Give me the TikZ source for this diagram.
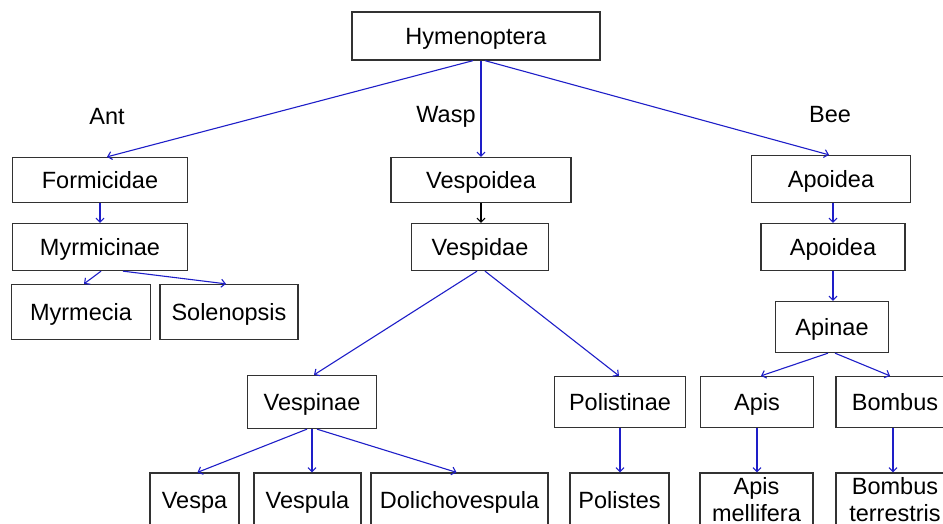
\documentclass[tikz,border=0pt]{standalone}
\usepackage{fontspec}
\setmainfont{Liberation Sans}
\usetikzlibrary{arrows.meta}
\definecolor{edgeblue}{RGB}{30,30,200}
\definecolor{boxgray}{RGB}{50,50,50}

\begin{document}
\begin{tikzpicture}[x=1pt,y=-1pt]
        \tikzset{taxon/.style = {shape=rectangle,draw=boxgray,line width=1.3pt,inner xsep=2pt,inner ysep=0pt,align=center,text height=16.8pt,text depth=0pt,font=\fontsize{23.5}{27}\selectfont}}
        \tikzset{twoline/.style = {taxon,text height=43.8pt}}
        \tikzset{group/.style = {font=\fontsize{23.5}{27}\selectfont}}
        \tikzset{edge/.style = {-{Straight Barb[length=4pt,width=8pt]},draw=edgeblue,line width=1.1pt}}
        \useasboundingbox (0,0) rectangle (943,523);
        % vertices
        \node[taxon,minimum width=248pt,minimum height=48pt] (hym) at (476,36) {Hymenoptera};
        \node[group] (ant)  at (107,117) {Ant};
        \node[group] (wasp) at (446,117) {Wasp};
        \node[group] (bee)  at (830,115) {Bee};
        \node[taxon,minimum width=175pt,minimum height=45pt] (formicidae) at (100,180) {Formicidae};
        \node[taxon,minimum width=175pt,minimum height=47pt] (myrmicinae) at (100,247) {Myrmicinae};
        \node[taxon,minimum width=139pt,minimum height=55pt] (myrmecia)   at (81,312)  {Myrmecia};
        \node[taxon,minimum width=138pt,minimum height=55pt] (solenopsis) at (229,312) {Solenopsis};
        \node[taxon,minimum width=180pt,minimum height=45pt] (vespoidea)  at (481,180) {Vespoidea};
        \node[taxon,minimum width=137pt,minimum height=47pt] (vespidae)   at (480,247) {Vespidae};
        \node[taxon,minimum width=129pt,minimum height=53pt] (vespinae)   at (312,402) {Vespinae};
        \node[taxon,minimum width=131pt,minimum height=51pt] (polistinae) at (620,402) {Polistinae};
        \node[taxon,minimum width=159pt,minimum height=47pt] (apoideaA)   at (831,179) {Apoidea};
        \node[taxon,minimum width=144pt,minimum height=47pt] (apoideaB)   at (833,247) {Apoidea};
        \node[taxon,minimum width=113pt,minimum height=51pt] (apinae)     at (832,327) {Apinae};
        \node[taxon,minimum width=113pt,minimum height=51pt] (apis)       at (757,402) {Apis};
        \node[taxon,minimum width=118pt,minimum height=51pt] (bombus)     at (895,402) {Bombus};
        \node[taxon,minimum width=89pt,minimum height=54pt]  (vespa)      at (194.5,500) {Vespa};
        \node[taxon,minimum width=107pt,minimum height=54pt] (vespula)    at (307.5,500) {Vespula};
        \node[taxon,minimum width=177pt,minimum height=54pt] (dolicho)    at (459.5,500) {Dolichovespula};
        \node[taxon,minimum width=99pt,minimum height=54pt]  (polistes)   at (619.5,500) {Polistes};
        \node[twoline,minimum width=113pt,minimum height=54pt] (apismell) at (756.5,500) {Apis\\mellifera};
        \node[twoline,minimum width=118pt,minimum height=54pt] (bombterr) at (895,500) {Bombus\\terrestris};
        %edges
        \draw[edge] ([xshift=-3pt]hym.south) -- ([xshift=7pt]formicidae.north);
        \draw[edge] ([xshift=5pt]hym.south) -- (vespoidea.north);
        \draw[edge] ([xshift=9pt]hym.south) -- ([xshift=-2pt]apoideaA.north);
        \draw[edge] (formicidae) -- (myrmicinae);
        \draw[edge] ([xshift=1pt]myrmicinae.south) -- ([xshift=3pt]myrmecia.north);
        \draw[edge] ([xshift=23pt]myrmicinae.south) -- ([xshift=-3pt]solenopsis.north);
        \draw[edge,draw=black] (vespoidea.south) -- (vespoidea.south |- vespidae.north);
        \draw[edge] ([xshift=-3pt]vespidae.south) -- ([xshift=2pt]vespinae.north);
        \draw[edge] ([xshift=5pt]vespidae.south) -- ([xshift=-1pt]polistinae.north);
        \draw[edge] ([xshift=-5pt]vespinae.south) -- ([xshift=3pt]vespa.north);
        \draw[edge] (vespinae.south) -- (vespinae.south |- vespula.north);
        \draw[edge] ([xshift=5pt]vespinae.south) -- ([xshift=-3pt]dolicho.north);
        \draw[edge] (polistinae) -- (polistinae.south |- polistes.north);
        \draw[edge] (apoideaB.north |- apoideaA.south) -- (apoideaB.north);
        \draw[edge] (apoideaB.south) -- (apoideaB.south |- apinae.north);
        \draw[edge] ([xshift=-4pt]apinae.south) -- ([xshift=4pt]apis.north);
        \draw[edge] ([xshift=3pt]apinae.south) -- ([xshift=-5pt]bombus.north);
        \draw[edge] (apis) -- (apis.south |- apismell.north);
        \draw[edge] ([xshift=-2pt]bombus.south) -- ([xshift=-2pt]bombus.south |- bombterr.north);
\end{tikzpicture}
\end{document}
